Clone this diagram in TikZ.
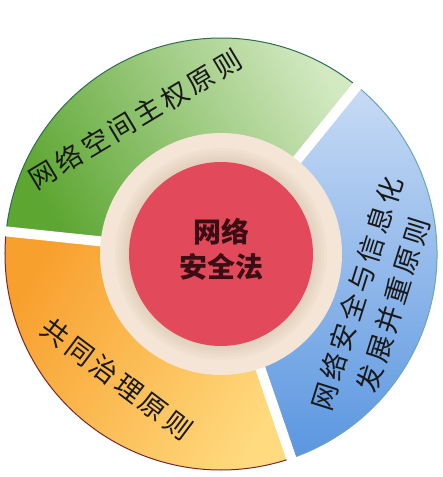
\documentclass[tikz,border=0pt]{standalone}
\usepackage{fontspec}
\newfontfamily\cjk{Noto Sans CJK SC}
\newfontfamily\cjkwide[LetterSpace=14]{Noto Sans CJK SC}
\definecolor{greendark}{HTML}{5DA632}
\definecolor{greenmid}{HTML}{74B546}
\definecolor{greenlight}{HTML}{D3E9C2}
\definecolor{greenline}{HTML}{2F6D55}
\definecolor{orangedark}{HTML}{F8A02E}
\definecolor{orangemid}{HTML}{FDBC55}
\definecolor{orangelight}{HTML}{FFDA7E}
\definecolor{orangeline}{HTML}{7A2626}
\definecolor{bluelight}{HTML}{C8DBF5}
\definecolor{bluedark}{HTML}{5A96E0}
\definecolor{blueline}{HTML}{6AA6B8}
\definecolor{beige}{HTML}{F4E5D6}
\definecolor{beigeshadow}{HTML}{C9AE96}
\definecolor{hubred}{HTML}{E24A5B}
\definecolor{hubtext}{HTML}{3A0E12}
\begin{document}
\begin{tikzpicture}[x=1pt,y=1pt,
ring/.style={font=\cjkwide\fontsize{27}{38}\selectfont,text=black!90,align=center},
hub/.style={font=\cjk\bfseries\fontsize{28}{35}\selectfont,text=hubtext,align=center}]
\useasboundingbox (-221,-223) rectangle (222,254);
\coordinate (c) at (0,0);
% three outer sectors
\shade[left color=greendark,middle color=greenmid,right color=greenlight,shading angle=120]
 (c) -- (51:216) arc (51:174:216) -- cycle;
\shade[left color=orangedark,middle color=orangemid,right color=orangelight,shading angle=60]
 (c) -- (174:216) arc (174:289:216) -- cycle;
\shade[top color=bluelight,bottom color=bluedark]
 (c) -- (-71:216) arc (-71:51:216) -- cycle;
\draw[greenline,line width=1] (51:216) arc (51:174:216);
\draw[orangeline,line width=1] (174:216) arc (174:289:216);
\draw[blueline,line width=1] (-71:216) arc (-71:51:216);
\foreach \a in {51,174,289}
 \draw[white,line width=10] (c) -- (\a:225);
% inner ring and hub
\fill[beige] (c) circle (121);
\foreach \r in {106,103,...,93}
 \fill[beigeshadow,opacity=0.08] (c) circle (\r);
\fill[hubred] (c) circle (92);
\node[hub] (law) at (1,4.5) {网络\\安全法};
\node[ring,rotate=31] (sovereignty) at (-86,135) {网络空间主权原则};
\node[ring,rotate=-37] (governance) at (-104,-125) {共同治理原则};
\node[ring,rotate=72.5] (balance) at (154,-45) {网络安全与信息化\\发展并重原则};
\end{tikzpicture}
\end{document}
